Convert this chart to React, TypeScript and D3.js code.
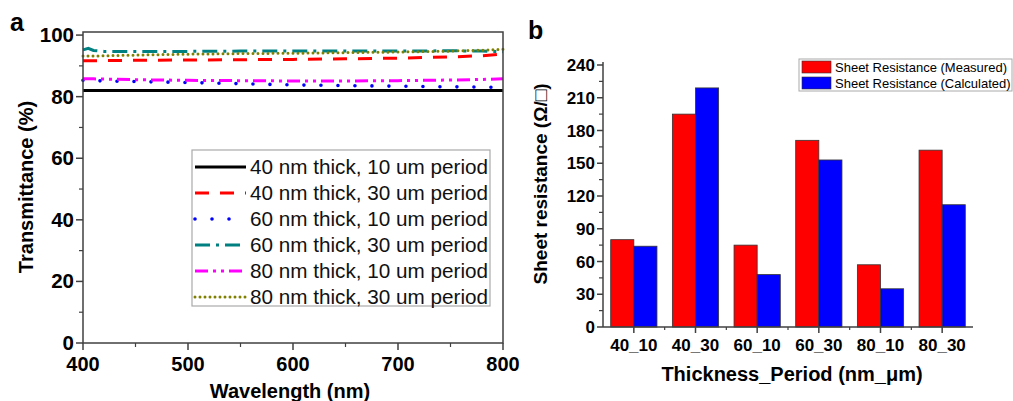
import React from "react";
import * as d3 from "d3";

// Panel a: transmittance spectra
const wavelengths = [400, 405, 410, 420, 450, 500, 550, 600, 650, 700, 750, 780, 800];
const t40_10 = [82.0, 82.0, 82.0, 82.0, 82.0, 82.0, 82.0, 82.0, 82.0, 82.0, 82.0, 82.0, 82.0];
const t40_30 = [91.7, 91.7, 91.7, 91.7, 91.8, 91.9, 92.0, 92.1, 92.3, 92.5, 92.9, 93.3, 93.8];
const t60_10 = [85.3, 85.3, 85.2, 85.1, 84.9, 84.6, 84.2, 83.8, 83.6, 83.4, 83.2, 83.1, 83.0];
const t60_30 = [95.2, 95.7, 95.0, 94.7, 94.7, 94.7, 94.8, 94.8, 94.8, 94.8, 94.9, 94.8, 94.6];
const t80_10 = [85.8, 85.8, 85.8, 85.7, 85.5, 85.3, 85.2, 85.1, 85.1, 85.2, 85.4, 85.6, 85.8];
const t80_30 = [93.2, 93.2, 93.2, 93.3, 93.5, 93.8, 94.0, 94.1, 94.3, 94.5, 94.8, 95.1, 95.4];
const seriesNames = [
  "40 nm thick, 10 um period",
  "40 nm thick, 30 um period",
  "60 nm thick, 10 um period",
  "60 nm thick, 30 um period",
  "80 nm thick, 10 um period",
  "80 nm thick, 30 um period",
];
const xTicksA = [400, 500, 600, 700, 800];
const yTicksA = [0, 20, 40, 60, 80, 100];

// Panel b: sheet resistance
const categories = ["40_10", "40_30", "60_10", "60_30", "80_10", "80_30"];
const measured = [80, 195, 75, 171, 57, 162];
const calculated = [74, 219, 48, 153, 35, 112];
const yTicksB = [0, 30, 60, 90, 120, 150, 180, 210, 240];
const barNames = ["Sheet Resistance (Measured)", "Sheet Resistance (Calculated)"];

const styles = [
  { color: "#000000", dash: "", width: 3.2, cap: "butt" },
  { color: "#ff0000", dash: "14 11", width: 3, cap: "butt" },
  { color: "#0000ff", dash: "0 17", width: 3.6, cap: "round" },
  { color: "#008080", dash: "15 6 3 6", width: 3, cap: "butt" },
  { color: "#ff00ff", dash: "13 5 3 5 3 5", width: 3, cap: "butt" },
  { color: "#808000", dash: "0 5", width: 3, cap: "round" },
];

const FONT = "'Liberation Sans', Arial, sans-serif";
const AX = "#404040";

export default function App() {
  const series = [t40_10, t40_30, t60_10, t60_30, t80_10, t80_30];

  const x = d3.scaleLinear().domain([400, 800]).range([83, 503]);
  const y = d3.scaleLinear().domain([0, 101]).range([343, 32]);
  const line = d3
    .line<number>()
    .x((_, i) => x(wavelengths[i]))
    .y((d) => y(d));

  const xb = d3.scaleBand().domain(categories).range([603, 973]).paddingInner(0.25).paddingOuter(0.125);
  const yb = d3.scaleLinear().domain([0, 240]).range([327, 65]);
  const bw = xb.bandwidth() / 2;

  const xMinorA = d3.range(450, 800, 100);
  const yMinorA = d3.range(10, 101, 20);
  const yMinorB = d3.range(15, 240, 30);
  const bandEdges = categories.slice(1).map((c) => xb(c)! - (xb.step() - xb.bandwidth()) / 2);

  return (
    <svg width={1013} height={401} style={{ position: "absolute", left: 0, top: 0, background: "#fff" }} fontFamily={FONT}>
      {/* ---------- panel a ---------- */}
      <text x={10} y={31} fontSize={25} fontWeight="bold">a</text>
      {series.map((s, i) => (
        <path
          key={i}
          d={line(s)!}
          fill="none"
          stroke={styles[i].color}
          strokeWidth={styles[i].width}
          strokeDasharray={styles[i].dash}
          strokeLinecap={styles[i].cap as any}
        />
      ))}
      <rect x={83} y={32} width={420} height={311} fill="none" stroke={AX} strokeWidth={1.5} />
      {xTicksA.map((t) => (
        <g key={t}>
          <line x1={x(t)} x2={x(t)} y1={343} y2={350} stroke={AX} strokeWidth={1.5} />
          <text x={x(t)} y={371} fontSize={20} fontWeight="bold" textAnchor="middle">{t}</text>
        </g>
      ))}
      {xMinorA.map((t) => (
        <line key={t} x1={x(t)} x2={x(t)} y1={343} y2={347} stroke={AX} strokeWidth={1.2} />
      ))}
      {yTicksA.map((t) => (
        <g key={t}>
          <line x1={76} x2={83} y1={y(t)} y2={y(t)} stroke={AX} strokeWidth={1.5} />
          <text x={74} y={y(t) + 7} fontSize={20.5} fontWeight="bold" textAnchor="end">{t}</text>
        </g>
      ))}
      {yMinorA.map((t) => (
        <line key={t} x1={79} x2={83} y1={y(t)} y2={y(t)} stroke={AX} strokeWidth={1.2} />
      ))}
      <text x={290} y={398} fontSize={20} fontWeight="bold" textAnchor="middle">Wavelength (nm)</text>
      <text transform={`translate(33,187) rotate(-90)`} fontSize={20} fontWeight="bold" textAnchor="middle">
        Transmittance (%)
      </text>
      {/* legend a */}
      <rect x={192} y={150} width={298} height={156} fill="#fff" stroke="#aaa" strokeWidth={1.2} />
      {seriesNames.map((n, i) => {
        const cy = 167 + i * 26;
        return (
          <g key={n}>
            <line
              x1={195}
              x2={246}
              y1={cy}
              y2={cy}
              stroke={styles[i].color}
              strokeWidth={styles[i].width}
              strokeDasharray={styles[i].dash}
              strokeLinecap={styles[i].cap as any}
            />
            <text x={250} y={cy + 7} fontSize={20.7} fill="#111">{n}</text>
          </g>
        );
      })}

      {/* ---------- panel b ---------- */}
      <text x={528} y={39} fontSize={25} fontWeight="bold">b</text>
      {categories.map((c, i) => (
        <g key={c}>
          <rect x={xb(c)!} y={yb(measured[i])} width={bw} height={yb(0) - yb(measured[i])} fill="#ff0000" stroke="#333" strokeWidth={0.8} />
          <rect x={xb(c)! + bw} y={yb(calculated[i])} width={bw} height={yb(0) - yb(calculated[i])} fill="#0000ff" stroke="#333" strokeWidth={0.8} />
        </g>
      ))}
      <line x1={603} x2={603} y1={62} y2={327} stroke={AX} strokeWidth={1.5} />
      <line x1={603} x2={973} y1={327} y2={327} stroke={AX} strokeWidth={1.5} />
      {yTicksB.map((t) => (
        <g key={t}>
          <line x1={597} x2={603} y1={yb(t)} y2={yb(t)} stroke={AX} strokeWidth={1.5} />
          <text x={595} y={yb(t) + 6} fontSize={17} fontWeight="bold" textAnchor="end">{t}</text>
        </g>
      ))}
      {yMinorB.map((t) => (
        <line key={t} x1={599} x2={603} y1={yb(t)} y2={yb(t)} stroke={AX} strokeWidth={1.2} />
      ))}
      {categories.map((c) => (
        <g key={c}>
          <line x1={xb(c)! + bw} x2={xb(c)! + bw} y1={327} y2={333} stroke={AX} strokeWidth={1.5} />
          <text x={xb(c)! + bw} y={351} fontSize={17} fontWeight="bold" textAnchor="middle">{c}</text>
        </g>
      ))}
      {bandEdges.map((e, i) => (
        <line key={i} x1={e} x2={e} y1={327} y2={330} stroke={AX} strokeWidth={1.2} />
      ))}
      <text x={792} y={381} fontSize={20} fontWeight="bold" textAnchor="middle">Thickness_Period (nm_μm)</text>
      <text transform={`translate(547,184) rotate(-90)`} fontSize={19} fontWeight="bold" textAnchor="middle">
        Sheet resistance (Ω/□)
      </text>
      {/* legend b */}
      <rect x={799} y={59} width={213} height={32} fill="#fff" stroke="#aaa" strokeWidth={1} />
      {barNames.map((n, i) => (
        <g key={n}>
          <rect x={802} y={61 + i * 16} width={29} height={12} fill={i === 0 ? "#ff0000" : "#0000ff"} stroke="#333" strokeWidth={0.6} />
          <text x={835} y={72 + i * 16} fontSize={13}>{n}</text>
        </g>
      ))}
    </svg>
  );
}
